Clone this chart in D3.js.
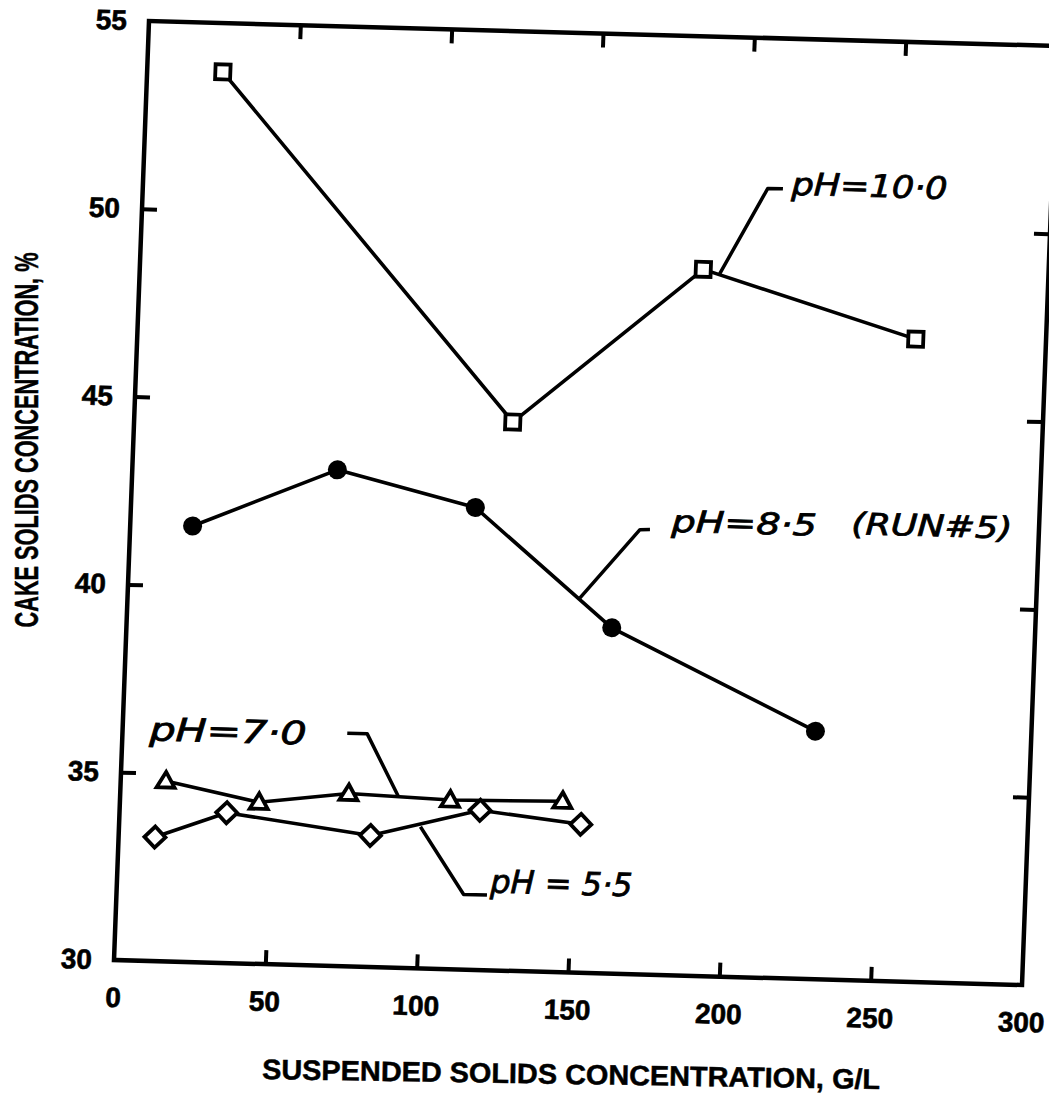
<!DOCTYPE html>
<html><head><meta charset="utf-8">
<script src="https://cdn.jsdelivr.net/npm/d3@7"></script>
<style>body{margin:0;background:#fff}</style>
</head><body>
<svg id="c" width="1049" height="1109"></svg>
<script>
// ---- data ----
const xTicks = [0, 50, 100, 150, 200, 250, 300];
const yTicks = [30, 35, 40, 45, 50, 55];

const ph10X = [25, 125, 186, 257];
const ph10Y = [53.7, 44.6, 48.8, 47.1];
const ph85X = [20.6, 67.7, 113.7, 160.2, 228.7];
const ph85Y = [41.6, 43.2, 42.3, 39.2, 36.6];
const ph70X = [14.9, 45.9, 75.4, 109, 146.1];
const ph70Y = [34.8, 34.3, 34.6, 34.5, 34.55];
const ph55X = [12, 35.4, 83.1, 119, 152.4];
const ph55Y = [33.3, 34.0, 33.5, 34.25, 33.95];

// annotation leaders (data units) and label anchors
const leader10 = [[191.5, 48.7], [206.3, 51.0], [211.3, 51.0]];
const leader85 = [[149.35, 39.97], [168.3, 41.83], [171.6, 41.84]];
const leader70 = [[74.2, 36.2], [80.8, 36.2], [91.9, 34.55]];
const leader55 = [[99.5, 33.77], [114.6, 32.0], [122.3, 32.0]];
const labelText = ["pH=10·0", "pH=8·5", "(RUN#5)", "pH=7·0", "pH = 5·5"];
const labelAt = [[214.1, 50.85], [178.7, 41.8], [238, 41.87], [8.9, 35.87], [123.3, 32.07]];

const xTitle = "SUSPENDED SOLIDS CONCENTRATION, G/L";
const yTitle = "CAKE SOLIDS CONCENTRATION, %";

// ---- layout ----
const W = 908, H = 939;
const svg = d3.select("#c");
const x = d3.scaleLinear().domain([0, 300]).range([0, W]);
const y = d3.scaleLinear().domain([30, 55]).range([H, 0]);

// scanned page is slightly skewed
const g = svg.append("g").attr("transform", "matrix(1,0.02753,-0.03727,1,149,21)");

const tickFont = "'Liberation Sans', Arial, Helvetica, sans-serif";

function styleAxis(sel, showLabels) {
  sel.select(".domain").remove();
  sel.selectAll(".tick line").attr("stroke", "#000").attr("stroke-width", 4);
  sel.selectAll(".tick text")
    .attr("fill", "#000")
    .attr("stroke", "#000").attr("stroke-width", 0.6)
    .style("font-family", tickFont)
    .style("font-weight", "bold")
    .style("font-size", "28px")
    .style("display", showLabels ? null : "none");
}

const innerX = xTicks.filter(v => v > 0 && v < 300);
const innerY = yTicks.filter(v => v > 30 && v < 55);

const gb = g.append("g").attr("transform", `translate(0,${H})`)
  .call(d3.axisBottom(x).tickValues(xTicks).tickSizeInner(-14).tickSizeOuter(0).tickPadding(27));
styleAxis(gb, true);
gb.selectAll(".tick").filter(d => d === 0 || d === 300).select("line").remove();

const gl = g.append("g")
  .call(d3.axisLeft(y).tickValues(yTicks).tickSizeInner(-15).tickSizeOuter(0).tickPadding(22));
styleAxis(gl, true);
gl.selectAll(".tick").filter(d => d === 30 || d === 55).select("line").remove();

const gt = g.append("g")
  .call(d3.axisTop(x).tickValues(innerX).tickSizeInner(-14).tickSizeOuter(0));
styleAxis(gt, false);

const gr = g.append("g").attr("transform", `translate(${W},0)`)
  .call(d3.axisRight(y).tickValues(innerY).tickSizeInner(-16).tickSizeOuter(0));
styleAxis(gr, false);

// frame
g.append("rect").attr("x", 0).attr("y", 0).attr("width", W).attr("height", H)
  .attr("fill", "none").attr("stroke", "#000").attr("stroke-width", 4.5);

// ---- series ----
const line = d3.line().x(d => x(d[0])).y(d => y(d[1]));
const zip = (a, b) => a.map((v, i) => [v, b[i]]);
const series = [
  { pts: zip(ph10X, ph10Y), mark: "square" },
  { pts: zip(ph85X, ph85Y), mark: "circle" },
  { pts: zip(ph70X, ph70Y), mark: "triangle" },
  { pts: zip(ph55X, ph55Y), mark: "diamond" }
];

[leader10, leader85, leader70, leader55].forEach(l => {
  g.append("path").attr("d", line(l)).attr("fill", "none")
    .attr("stroke", "#000").attr("stroke-width", 3.5).attr("stroke-linejoin", "round");
});

series.forEach(s => {
  g.append("path").attr("d", line(s.pts)).attr("fill", "none")
    .attr("stroke", "#000").attr("stroke-width", 3.6).attr("stroke-linejoin", "round");
});

const markPath = {
  square: "M-7.5,-7.5H7.5V7.5H-7.5Z",
  triangle: "M0,-9L9,6.5H-9Z",
  diamond: "M0,-10.5L10.5,0L0,10.5L-10.5,0Z"
};
series.forEach(s => {
  const m = g.append("g").selectAll("g").data(s.pts).join("g")
    .attr("transform", d => `translate(${x(d[0])},${y(d[1])})`);
  if (s.mark === "circle") {
    m.append("circle").attr("r", 9.5).attr("fill", "#000");
  } else {
    m.append("path").attr("d", markPath[s.mark]).attr("fill", "#fff")
      .attr("stroke", "#000").attr("stroke-width", 3.8).attr("stroke-linejoin", "miter");
  }
});

// labels
const labelLen = [156, 145, 161, 157, 142];
const labelSize = [31, 30, 30, 32, 32];
labelText.forEach((t, i) => {
  g.append("text")
    .attr("x", x(labelAt[i][0])).attr("y", y(labelAt[i][1]))
    .attr("textLength", labelLen[i]).attr("lengthAdjust", "spacingAndGlyphs")
    .style("font-family", "'DejaVu Sans', sans-serif")
    .style("font-style", "oblique")
    .style("font-size", labelSize[i] + "px")
    .attr("fill", "#000").attr("stroke", "#000").attr("stroke-width", 0.8)
    .text(t);
});

// titles
svg.append("text")
  .attr("transform", "translate(26,440) rotate(-90)")
  .attr("text-anchor", "middle").attr("dominant-baseline", "central")
  .attr("textLength", 375).attr("lengthAdjust", "spacingAndGlyphs")
  .attr("stroke", "#000").attr("stroke-width", 0.5)
  .style("font-family", tickFont).style("font-weight", "bold").style("font-size", "34px")
  .text(yTitle);

svg.append("text")
  .attr("transform", "translate(571,1084) rotate(0.93)")
  .attr("text-anchor", "middle")
  .attr("textLength", 618).attr("lengthAdjust", "spacingAndGlyphs")
  .attr("stroke", "#000").attr("stroke-width", 0.5)
  .style("font-family", tickFont).style("font-weight", "bold").style("font-size", "28px")
  .text(xTitle);
</script>
</body></html>
